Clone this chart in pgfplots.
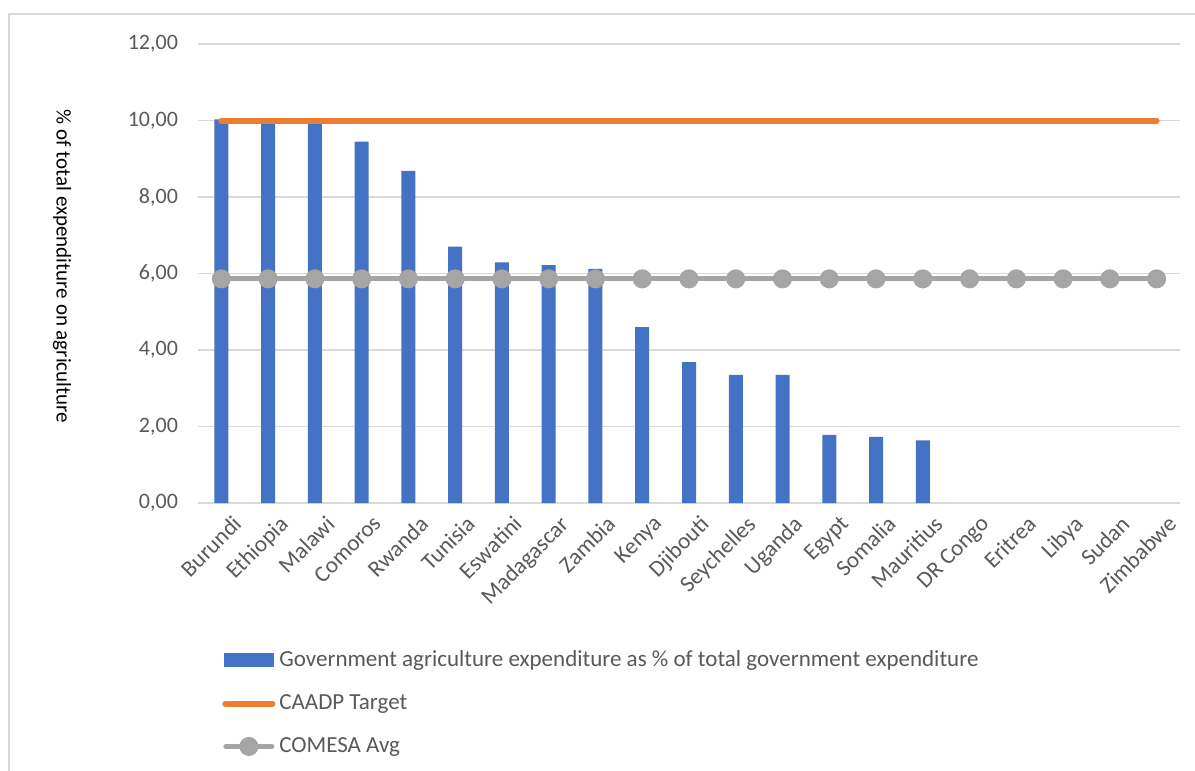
\documentclass[border=0pt]{standalone}
\usepackage{pgfplots}
\pgfplotsset{compat=1.18}
\usepackage{fontspec}
\setmainfont{Carlito}
\definecolor{barblue}{HTML}{4472C4}
\definecolor{caadp}{HTML}{ED7D31}
\definecolor{comesa}{HTML}{A5A5A5}
\definecolor{txtgray}{HTML}{595959}
\definecolor{gridgray}{HTML}{D9D9D9}
\begin{document}
\begin{tikzpicture}
\useasboundingbox (0,0) rectangle (597.5pt,-385.5pt);
\draw[gridgray, line width=1.2pt] (4.5pt,-390pt) -- (4.5pt,-7pt) -- (600pt,-7pt);
\begin{axis}[
  at={(99pt,-251.5pt)}, anchor=south west,
  scale only axis, width=491pt, height=229.5pt,
  xmin=-0.5, xmax=20.5, ymin=0, ymax=12,
  axis line style={draw=none},
  major tick length=0pt,
  ymajorgrids, grid style={gridgray, line width=0.6pt},
  ytick={0,2,4,6,8,10,12},
  /pgf/number format/.cd, fixed, fixed zerofill, precision=2, use comma, assume math mode=true,
  /pgfplots/.cd,
  yticklabel style={font=\fontsize{11}{12}\selectfont, text=txtgray, xshift=-6.5pt},
  xtick={0,...,20},
  xticklabels={Burundi,Ethiopia,Malawi,Comoros,Rwanda,Tunisia,Eswatini,Madagascar,Zambia,Kenya,Djibouti,Seychelles,Uganda,Egypt,Somalia,Mauritius,DR Congo,Eritrea,Libya,Sudan,Zimbabwe},
  xticklabel style={font=\fontsize{11.5}{12}\selectfont, text=txtgray, rotate=45, anchor=north east, xshift=3pt, yshift=-4pt},
  ylabel={\% of total expenditure on agriculture},
  ylabel style={font=\fontsize{10.5}{12}\selectfont, rotate=180, at={(axis description cs:-0.1385,0.515)}, anchor=center},
  legend style={draw=none, at={(axis description cs:0.0244,-0.312)}, anchor=north west,
    font=\fontsize{11.5}{13}\selectfont, text=txtgray, row sep=8.5pt, inner sep=0pt},
  legend cell align=left,
  clip=false,
]
\addplot[ybar, bar width=7pt, fill=barblue, draw=none,
  legend image code/.code={\fill[barblue] (0pt,-3.5pt) rectangle (25pt,3.5pt);}]
  coordinates {(0,10.03) (1,10.0) (2,10.0) (3,9.45) (4,8.68) (5,6.70) (6,6.29) (7,6.22) (8,6.12) (9,4.60) (10,3.68) (11,3.35) (12,3.35) (13,1.78) (14,1.73) (15,1.64)};
\addlegendentry{Government agriculture expenditure as \% of total government expenditure}
\addplot[caadp, line width=3pt, line cap=round,
  legend image code/.code={\draw[caadp, line width=3pt, line cap=round] (0.75pt,0) -- (24.25pt,0);}]
  coordinates {(0,10) (1,10) (2,10) (3,10) (4,10) (5,10) (6,10) (7,10) (8,10) (9,10) (10,10) (11,10) (12,10) (13,10) (14,10) (15,10) (16,10) (17,10) (18,10) (19,10) (20,10)};
\addlegendentry{CAADP Target}
\addplot[comesa, line width=2.5pt, mark=*, mark size=3.5pt, mark options={fill=comesa, draw=none},
  legend image code/.code={\draw[comesa, line width=2.5pt, line cap=round] (1pt,0) -- (24pt,0); \fill[comesa] (12.5pt,0) circle (3.5pt);}]
  coordinates {(0,5.86) (1,5.86) (2,5.86) (3,5.86) (4,5.86) (5,5.86) (6,5.86) (7,5.86) (8,5.86) (9,5.86) (10,5.86) (11,5.86) (12,5.86) (13,5.86) (14,5.86) (15,5.86) (16,5.86) (17,5.86) (18,5.86) (19,5.86) (20,5.86)};
\addlegendentry{COMESA Avg}
\end{axis}
\end{tikzpicture}
\end{document}
